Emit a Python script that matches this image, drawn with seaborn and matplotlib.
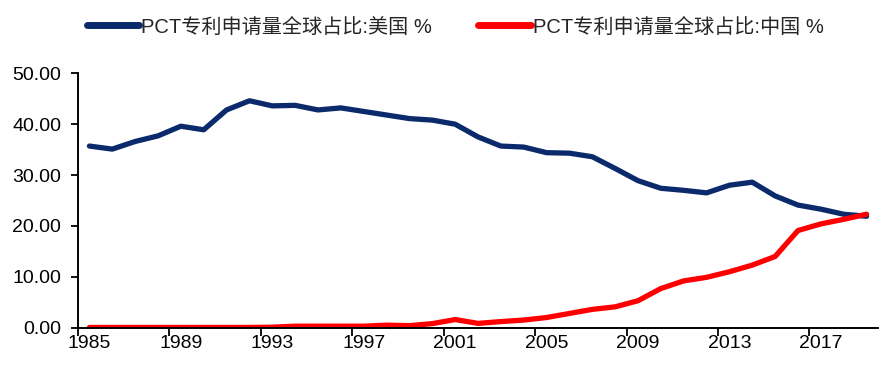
import matplotlib
matplotlib.use("Agg")
import matplotlib.pyplot as plt
import seaborn as sns
import pandas as pd
from matplotlib.lines import Line2D
from matplotlib.ticker import FixedLocator, NullFormatter, FixedFormatter

years = list(range(1985, 2020))
us_share = [35.7, 35.1, 36.6, 37.7, 39.6, 38.9, 42.8, 44.6, 43.6, 43.7,
            42.8, 43.2, 42.5, 41.8, 41.1, 40.8, 40.0, 37.5, 35.7, 35.5,
            34.4, 34.3, 33.6, 31.3, 28.9, 27.4, 27.0, 26.5, 28.0, 28.6,
            25.9, 24.1, 23.3, 22.3, 21.9]
cn_share = [0.05, 0.05, 0.05, 0.05, 0.05, 0.05, 0.05, 0.05, 0.1, 0.3,
            0.3, 0.3, 0.3, 0.5, 0.4, 0.8, 1.6, 0.85, 1.2, 1.5,
            2.0, 2.8, 3.6, 4.1, 5.3, 7.7, 9.2, 9.9, 11.0, 12.3,
            14.0, 19.1, 20.4, 21.3, 22.3]
label_us = "PCT专利申请量全球占比:美国 %"
label_cn = "PCT专利申请量全球占比:中国 %"
tick_years = [1985, 1989, 1993, 1997, 2001, 2005, 2009, 2013, 2017]
y_ticks = [0, 10, 20, 30, 40, 50]

sns.set_theme(style="white")
plt.rcParams['font.family'] = ['Liberation Sans', 'Noto Sans CJK SC', 'DejaVu Sans']

navy = "#0B2A6B"
red = "#FF0000"

df = pd.DataFrame({"year": years, "us": us_share, "cn": cn_share})

fig = plt.figure(figsize=(8.84, 3.74), dpi=100)
ax = fig.add_axes([78 / 884, 1 - 327.7 / 374, 800 / 884, 254.4 / 374])

sns.lineplot(data=df, x="year", y="us", ax=ax, color=navy, linewidth=3.8,
             solid_capstyle="round", solid_joinstyle="round")
sns.lineplot(data=df, x="year", y="cn", ax=ax, color=red, linewidth=3.8,
             solid_capstyle="round", solid_joinstyle="round")

ax.set_xlim(1984.5, 2019.5)
ax.set_ylim(0, 50)
ax.set_xlabel("")
ax.set_ylabel("")

# x axis: tick marks at category boundaries, labels at category centres
ax.xaxis.set_major_locator(FixedLocator([y - 0.5 for y in tick_years]))
ax.xaxis.set_major_formatter(NullFormatter())
ax.xaxis.set_minor_locator(FixedLocator(tick_years))
ax.xaxis.set_minor_formatter(FixedFormatter([str(y) for y in tick_years]))
ax.tick_params(axis="x", which="major", direction="out", length=6, width=1.3,
               color="black", bottom=True)
ax.tick_params(axis="x", which="minor", length=0, pad=5, labelsize=14,
               labelcolor="black", bottom=True)

ax.set_yticks(y_ticks)
ax.set_yticklabels([f"{v:.2f}" for v in y_ticks])
ax.tick_params(axis="y", which="major", direction="out", length=5, width=1.3,
               color="black", left=True, pad=7, labelsize=14, labelcolor="black")

for side in ["top", "right"]:
    ax.spines[side].set_visible(False)
for side in ["left", "bottom"]:
    ax.spines[side].set_color("black")
    ax.spines[side].set_linewidth(1.4)
ax.grid(False)

handles = [Line2D([0], [0], color=navy, linewidth=5, solid_capstyle="round"),
           Line2D([0], [0], color=red, linewidth=5, solid_capstyle="round")]
fig.legend(handles, [label_us, label_cn], loc="center", ncol=2,
           bbox_to_anchor=(455 / 884, 1 - 27 / 374), frameon=False,
           fontsize=14.5, handlelength=2.6, handletextpad=0.1,
           columnspacing=2.3)

fig.savefig("out.png", dpi=100)
